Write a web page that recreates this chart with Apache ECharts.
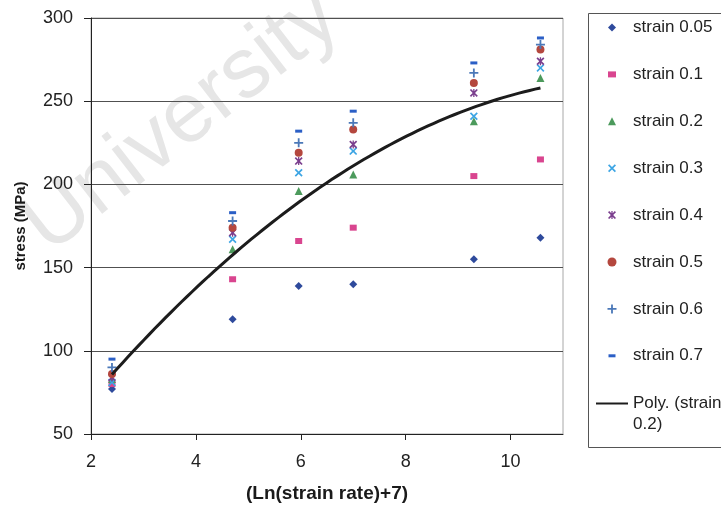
<!DOCTYPE html>
<html>
<head>
<meta charset="utf-8">
<script src="https://cdn.jsdelivr.net/npm/echarts@6/dist/echarts.min.js"></script>
<style>
  html, body { margin: 0; padding: 0; background: #ffffff; }
  #chart { width: 721px; height: 508px; }
</style>
</head>
<body>
<div id="chart"></div>
<script>
// Ln(strain rate)+7 for each test
const rateValues = [2.4, 4.7, 5.96, 7.0, 9.3, 10.57];

// Flow stress (MPa) at each strain level
const strain005 = [77, 119, 139, 140, 155, 168];
const strain01  = [80, 143, 166, 174, 205, 215];
const strain02  = [83, 161, 196, 206, 238, 264];
const strain03  = [81, 167, 207, 220, 241, 270];
const strain04  = [84, 171, 214, 224, 255, 274];
const strain05  = [86, 174, 219, 233, 261, 281];
const strain06  = [90, 178, 225, 237, 267, 284];
const strain07  = [95, 183, 232, 244, 273, 288];

const seriesNames = ['strain 0.05', 'strain 0.1', 'strain 0.2', 'strain 0.3',
                     'strain 0.4', 'strain 0.5', 'strain 0.6', 'strain 0.7'];
const trendName = 'Poly. (strain 0.2)';

// Axis ticks
const xTicks = [2, 4, 6, 8, 10];
const xMax = 11;
const yTicks = [50, 100, 150, 200, 250, 300];

const FONT = '"Liberation Sans", Arial, sans-serif';

// Marker outlines on a 10x10 grid, built as filled polygons
const SHAPES = {
  diamond: [[[5, 0], [10, 5], [5, 10], [0, 5]]],
  square: [[[0, 0], [10, 0], [10, 7], [0, 7]]],
  triangle: [[[5, 0], [10, 10], [0, 10]]],
  cross: [[[0, 1.5], [1.5, 0], [5, 3.5], [8.5, 0], [10, 1.5], [6.5, 5], [10, 8.5],
           [8.5, 10], [5, 6.5], [1.5, 10], [0, 8.5], [3.5, 5]]],
  plus: [[[4, 0], [6, 0], [6, 4], [10, 4], [10, 6], [6, 6], [6, 10], [4, 10],
          [4, 6], [0, 6], [0, 4], [4, 4]]],
  dash: [[[0, 0], [10, 0], [10, 4], [0, 4]]]
};
SHAPES.star = SHAPES.cross.concat([[[4.2, 0], [5.8, 0], [5.8, 10], [4.2, 10]]]);

function polyPath(polys, sx, sy, ox, oy) {
  return polys.map(function (p) {
    return 'M' + p.map(function (pt) {
      return (ox + pt[0] * sx).toFixed(2) + ',' + (oy + pt[1] * sy).toFixed(2);
    }).join('L') + 'Z';
  }).join('');
}

// Legend icon box is 28 x 9; the marker sits centred at x = 12
const ICON_W = 28, ICON_H = 9, ICON_CX = 12, ICON_CY = 4.5;
function legendIcon(shape, w, h) {
  const box = 'path://M0,0M' + ICON_W + ',' + ICON_H;
  if (shape === 'circle') {
    const r = w / 2;
    return box + 'M' + (ICON_CX - r) + ',' + ICON_CY + 'A' + r + ',' + r + ' 0 1 1 ' + (ICON_CX + r) +
      ',' + ICON_CY + 'A' + r + ',' + r + ' 0 1 1 ' + (ICON_CX - r) + ',' + ICON_CY + 'Z';
  }
  const ext = shape === SHAPES.square ? [10, 7] : shape === SHAPES.dash ? [10, 4] : [10, 10];
  return box + polyPath(shape, w / ext[0], h / ext[1], ICON_CX - w / 2, ICON_CY - h / 2);
}

const markerStyles = [
  { values: strain005, color: '#2e4a9c', symbol: 'diamond', size: [8, 8], shape: SHAPES.diamond, icon: [8, 8] },
  { values: strain01,  color: '#d9458f', symbol: 'rect', size: [7, 6], shape: SHAPES.square, icon: [8, 6] },
  { values: strain02,  color: '#4c9a5c', symbol: 'triangle', size: [8, 8], shape: SHAPES.triangle, icon: [8, 8] },
  { values: strain03,  color: '#3da5e4', symbol: 'path://' + polyPath(SHAPES.cross, 1, 1, 0, 0), size: [8, 8], shape: SHAPES.cross, icon: [8, 8] },
  { values: strain04,  color: '#7b3f8e', symbol: 'path://' + polyPath(SHAPES.star, 1, 1, 0, 0), size: [8, 8], shape: SHAPES.star, icon: [8, 8] },
  { values: strain05,  color: '#b4473e', symbol: 'circle', size: [8, 8], shape: 'circle', icon: [9, 9] },
  { values: strain06,  color: '#4b78b8', symbol: 'path://' + polyPath(SHAPES.plus, 1, 1, 0, 0), size: [9, 9], shape: SHAPES.plus, icon: [9, 9] },
  { values: strain07,  color: '#2b5fc6', symbol: 'rect', size: [7, 3], shape: SHAPES.dash, icon: [7, 3] }
];

// Second-order least-squares trendline through the strain 0.2 data
function quadraticFit(xs, ys) {
  const S = [0, 0, 0, 0, 0], T = [0, 0, 0];
  for (let i = 0; i < xs.length; i++) {
    let p = 1;
    for (let k = 0; k < 5; k++) { S[k] += p; p *= xs[i]; }
    T[0] += ys[i]; T[1] += xs[i] * ys[i]; T[2] += xs[i] * xs[i] * ys[i];
  }
  const M = [[S[0], S[1], S[2]], [S[1], S[2], S[3]], [S[2], S[3], S[4]]];
  const det3 = function (m) {
    return m[0][0] * (m[1][1] * m[2][2] - m[1][2] * m[2][1]) -
           m[0][1] * (m[1][0] * m[2][2] - m[1][2] * m[2][0]) +
           m[0][2] * (m[1][0] * m[2][1] - m[1][1] * m[2][0]);
  };
  const D = det3(M);
  const coef = [0, 1, 2].map(function (c) {
    const Mc = M.map(function (row, r) { return row.map(function (v, j) { return j === c ? T[r] : v; }); });
    return det3(Mc) / D;
  });
  return function (x) { return coef[0] + coef[1] * x + coef[2] * x * x; };
}
const trendFn = quadraticFit(rateValues, strain02);
const trendData = [];
const x0 = rateValues[0], x1 = rateValues[rateValues.length - 1];
for (let i = 0; i <= 80; i++) {
  const x = x0 + (x1 - x0) * i / 80;
  trendData.push([x, trendFn(x)]);
}

const series = markerStyles.map(function (m, i) {
  return {
    name: seriesNames[i],
    type: 'scatter',
    symbol: m.symbol,
    symbolSize: m.size,
    itemStyle: { color: m.color, opacity: 1 },
    data: rateValues.map(function (x, j) { return [x, m.values[j]]; }),
    z: 3
  };
});
series.push({
  name: trendName,
  type: 'line',
  symbol: 'none',
  showSymbol: false,
  lineStyle: { color: '#1c1c1c', width: 3 },
  itemStyle: { color: '#1c1c1c' },
  data: trendData,
  z: 4
});

const chart = echarts.init(document.getElementById('chart'), null, { renderer: 'canvas' });
chart.setOption({
  animation: false,
  backgroundColor: '#ffffff',
  grid: {
    left: 91, right: 158, top: 18, bottom: 73,
    show: true, borderColor: '#a8a8a8', borderWidth: 1
  },
  xAxis: {
    type: 'value',
    min: xTicks[0], max: xMax, interval: 2,
    name: '(Ln(strain rate)+7)',
    nameLocation: 'middle',
    nameGap: 50,
    nameTextStyle: { fontFamily: FONT, fontSize: 19, fontWeight: 'bold', color: '#1a1a1a' },
    axisLine: { lineStyle: { color: '#222', width: 1 } },
    axisTick: { show: true, inside: false, length: 6, lineStyle: { color: '#222' }, customValues: xTicks },
    axisLabel: { fontFamily: FONT, fontSize: 18, color: '#222', margin: 19, customValues: xTicks },
    splitLine: { show: false }
  },
  yAxis: {
    type: 'value',
    min: yTicks[0], max: yTicks[yTicks.length - 1], interval: 50,
    name: 'stress (MPa)',
    nameLocation: 'middle',
    nameGap: 63,
    nameTextStyle: { fontFamily: FONT, fontSize: 15, fontWeight: 'bold', color: '#1a1a1a' },
    axisLine: { show: true, lineStyle: { color: '#222', width: 1 } },
    axisTick: { show: true, inside: false, length: 7, lineStyle: { color: '#222' } },
    axisLabel: { fontFamily: FONT, fontSize: 18, color: '#222', margin: 18 },
    splitLine: { show: true, lineStyle: { color: '#505050', width: 1 } }
  },
  legend: [
    {
      orient: 'vertical',
      left: 600, top: 17.5, padding: 0,
      itemWidth: ICON_W, itemHeight: ICON_H, itemGap: 26.9,
      symbolKeepAspect: true,
      selectedMode: false,
      textStyle: { fontFamily: FONT, fontSize: 17, color: '#222', lineHeight: 20 },
      data: markerStyles.map(function (m, i) {
        return { name: seriesNames[i], icon: legendIcon(m.shape, m.icon[0], m.icon[1]) };
      })
    },
    {
      orient: 'vertical',
      left: 596, top: 372, padding: 0,
      itemWidth: 32, itemHeight: 8,
      symbolKeepAspect: true,
      selectedMode: false,
      // a leading blank line keeps the icon level with the first line of text
      formatter: function (name) { return '\n' + name.replace('strain ', 'strain\n'); },
      textStyle: { fontFamily: FONT, fontSize: 17, color: '#222', lineHeight: 21 },
      data: [{ name: trendName, icon: 'path://M0,0M32,8M0,3H32V5H0Z' }]
    }
  ],
  graphic: [
    {
      type: 'text',
      x: 182, y: 122,
      rotation: 0.66,
      z: -10,
      silent: true,
      style: {
        text: 'University',
        fontFamily: FONT,
        fontSize: 85,
        fill: '#e6e6e6',
        align: 'center',
        verticalAlign: 'middle'
      }
    },
    {
      type: 'rect',
      z: 1,
      silent: true,
      shape: { x: 588.5, y: 13.5, width: 200, height: 434 },
      style: { fill: 'none', stroke: '#555555', lineWidth: 1 }
    }
  ],
  series: series
});
</script>
</body>
</html>
